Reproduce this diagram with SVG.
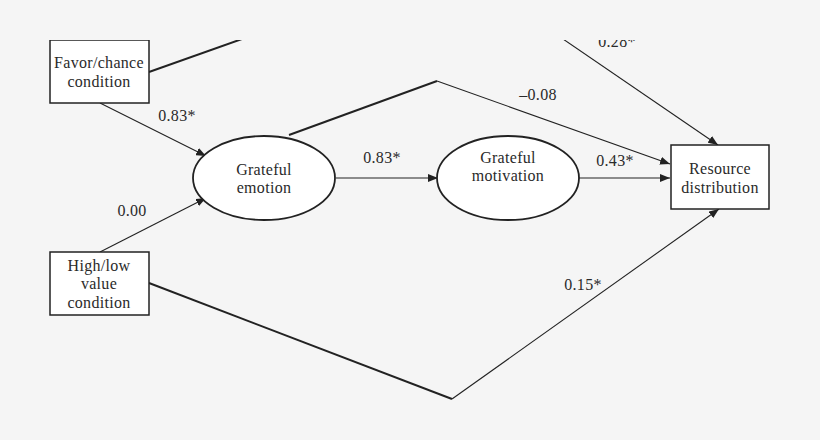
<svg xmlns="http://www.w3.org/2000/svg" width="820" height="440" viewBox="0 0 820 440">
<style>
.bg{fill:#f5f5f5}
.box{fill:#fff;stroke:#222;stroke-width:1.5}
.ell{fill:#fff;stroke:#222;stroke-width:1.8}
.t{font-family:"Liberation Serif","Times New Roman",serif;font-size:16px;letter-spacing:0.3px;fill:#2a2a2a;text-anchor:middle}
.thin{fill:none;stroke:#222;stroke-width:1.1}
.thick{fill:none;stroke:#222;stroke-width:2}
</style>
<defs>
<marker id="ah" viewBox="0 0 10 8" refX="10" refY="4" markerWidth="10" markerHeight="8" markerUnits="userSpaceOnUse" orient="auto">
<path d="M0,0 L10,4 L0,8 Z" fill="#222"/>
</marker>
<clipPath id="clip"><rect x="0" y="40" width="820" height="400"/></clipPath>
</defs>
<rect class="bg" x="0" y="0" width="820" height="440"/>
<g clip-path="url(#clip)">
<g id="connectors">
<path class="thick" d="M149,72 L242,39"/>
<path class="thin" d="M563,39 L718,145" marker-end="url(#ah)"/>
<path class="thin" d="M100,103 L206,156" marker-end="url(#ah)"/>
<path class="thin" d="M100,252 L206,198" marker-end="url(#ah)"/>
<path class="thin" d="M336,178 L438,178" marker-end="url(#ah)"/>
<path class="thin" d="M579,178 L670,178" marker-end="url(#ah)"/>
<path class="thick" d="M289,135 L437,81"/>
<path class="thin" d="M437,81 L670,164" marker-end="url(#ah)"/>
<path class="thick" d="M149,283 L452,399"/>
<path class="thin" d="M452,399 L719,209" marker-end="url(#ah)"/>
<text class="t" x="617" y="47">0.28*</text>
<text class="t" x="177" y="121">0.83*</text>
<text class="t" x="132" y="216">0.00</text>
<text class="t" x="382" y="163">0.83*</text>
<text class="t" x="538" y="100">–0.08</text>
<text class="t" x="615" y="166">0.43*</text>
<text class="t" x="583" y="290">0.15*</text>
</g>
<g id="favor">
<rect class="box" x="50" y="40" width="99" height="63"/>
<text class="t" x="99" y="68">Favor/chance</text>
<text class="t" x="99" y="87">condition</text>
</g>
<g id="highlow">
<rect class="box" x="50" y="252" width="99" height="63"/>
<text class="t" x="99" y="271">High/low</text>
<text class="t" x="99" y="289">value</text>
<text class="t" x="99" y="308">condition</text>
</g>
<g id="emotion">
<ellipse class="ell" cx="264" cy="178" rx="71" ry="42"/>
<text class="t" x="264" y="175">Grateful</text>
<text class="t" x="264" y="193">emotion</text>
</g>
<g id="motivation">
<ellipse class="ell" cx="508" cy="178" rx="71" ry="42"/>
<text class="t" x="508" y="163">Grateful</text>
<text class="t" x="508" y="181">motivation</text>
</g>
<g id="resource">
<rect class="box" x="671" y="145" width="98" height="64"/>
<text class="t" x="720" y="174">Resource</text>
<text class="t" x="720" y="193">distribution</text>
</g>
</g>
</svg>
